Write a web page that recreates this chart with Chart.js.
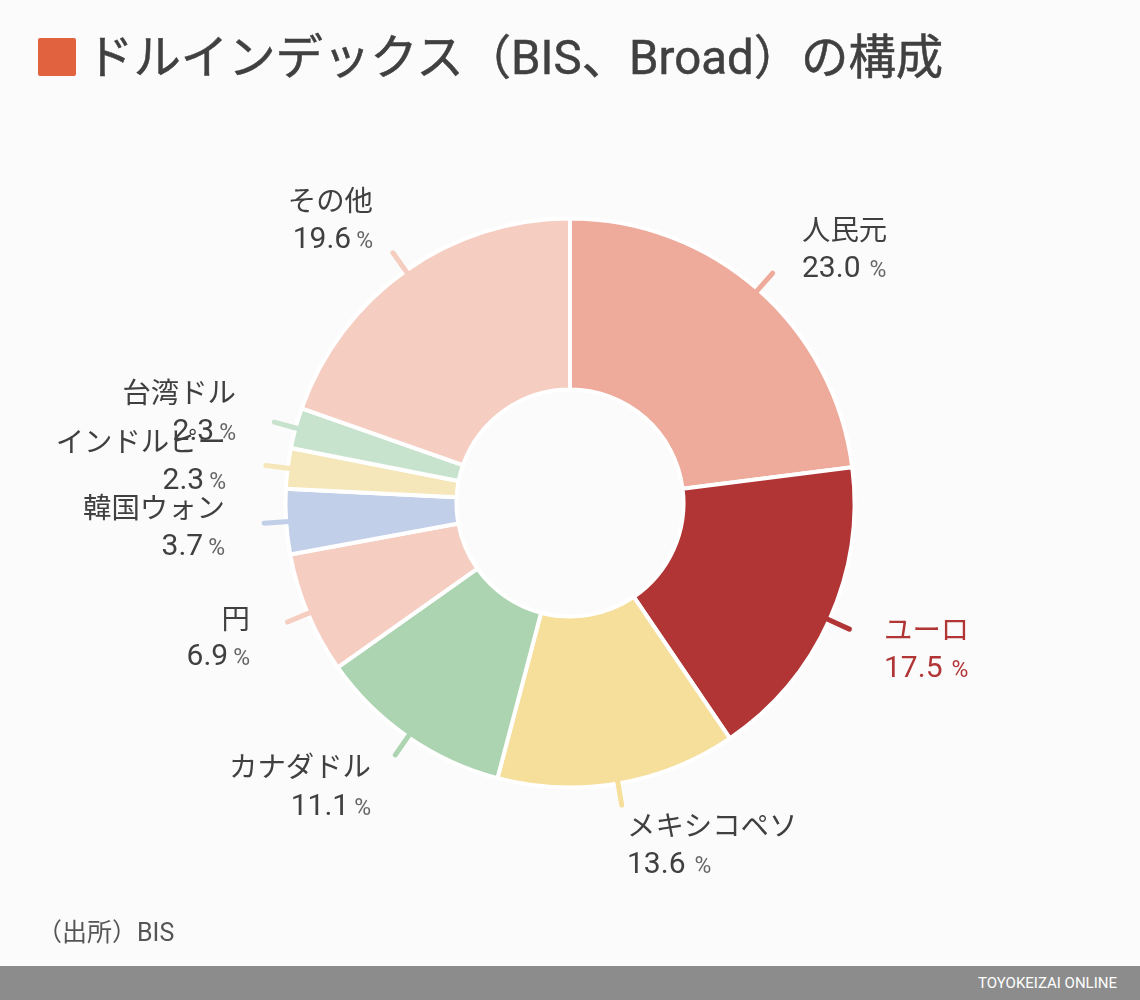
<!DOCTYPE html>
<html lang="ja">
<head>
<meta charset="utf-8">
<title>ドルインデックス（BIS、Broad）の構成</title>
<script src="https://cdn.jsdelivr.net/npm/chart.js@4"></script>
<style>
html, body { margin: 0; padding: 0; background: #fbfbfb; }
body { position: relative; width: 1140px; height: 1000px; overflow: hidden; font-family: Roboto, "Noto Sans CJK JP", sans-serif; color: #404040; }
#chart { position: absolute; left: 0; top: 0; }
.mark { position: absolute; left: 38px; top: 38px; width: 38px; height: 38px; border-radius: 2px; background: #e0623e; }
h1 { position: absolute; left: 86px; top: 26px; margin: 0; font-size: 47.4px; line-height: 64px; font-weight: 400; white-space: nowrap; -webkit-text-stroke: 0.5px #404040; }
.source { position: absolute; left: 37px; top: 916px; font-size: 25px; line-height: 34px; color: #555; }
.footer { position: absolute; left: 0; top: 966px; width: 1140px; height: 34px; background: #8c8c8c; }
.footer span { position: absolute; right: 23px; top: 7px; font-size: 15px; line-height: 20px; color: #fff; }
</style>
</head>
<body>
<canvas id="chart" width="1140" height="1000"></canvas>
<div class="mark"></div>
<h1>ドルインデックス（BIS、Broad）の構成</h1>
<div class="source">（出所）BIS</div>
<div class="footer"><span>TOYOKEIZAI ONLINE</span></div>
<script>
var categories = ['人民元', 'ユーロ', 'メキシコペソ', 'カナダドル', '円', '韓国ウォン', 'インドルピー', '台湾ドル', 'その他'];
var shares = [23.0, 17.5, 13.6, 11.1, 6.9, 3.7, 2.3, 2.3, 19.6];
var colors = ['#eeab9b', '#b23536', '#f6de9b', '#acd4b1', '#f5cdc1', '#c2cfe8', '#f6e7ba', '#c8e3cd', '#f5cdc1'];

// ラベルの位置 (x, 名前のy, 値のy, 揃え)
var labelPlaces = [
    [802, 233, 269.5, 'left'],
    [884, 633, 669.5, 'left'],
    [627, 829, 865.5, 'left'],
    [371, 770, 807.5, 'right'],
    [250, 622, 657.5, 'right'],
    [225, 511, 547.5, 'right'],
    [226, 445, 481.5, 'right'],
    [236, 396, 432.5, 'right'],
    [373, 204, 240.5, 'right']
];

var FONT = 'Roboto, "Noto Sans CJK JP", sans-serif';

var sliceLabels = {
    id: 'sliceLabels',
    afterDatasetsDraw: function (chart) {
        var c = chart.ctx;
        // 引き出し線
        chart.getDatasetMeta(0).data.forEach(function (arc, i) {
            var p = arc.getProps(['x', 'y', 'startAngle', 'endAngle', 'outerRadius']);
            var a = (p.startAngle + p.endAngle) / 2;
            c.save();
            c.strokeStyle = colors[i];
            c.lineWidth = 5;
            c.lineCap = 'round';
            c.beginPath();
            c.moveTo(p.x + Math.cos(a) * (p.outerRadius - 3), p.y + Math.sin(a) * (p.outerRadius - 3));
            c.lineTo(p.x + Math.cos(a) * (p.outerRadius + 22), p.y + Math.sin(a) * (p.outerRadius + 22));
            c.stroke();
            c.restore();
        });
        categories.forEach(function (name, i) {
            var place = labelPlaces[i];
            var x = place[0];
            var gap = place[3] === 'left' ? 9 : 5;
            var value = shares[i].toFixed(1);
            c.save();
            c.textBaseline = 'middle';
            c.fillStyle = i === 1 ? '#b23536' : '#404040';
            c.textAlign = place[3];
            c.font = '28.4px ' + FONT;
            c.fillText(name, x, place[1]);

            c.font = '30px ' + FONT;
            var valueWidth = c.measureText(value).width;
            c.font = '23px ' + FONT;
            var pctWidth = c.measureText('%').width;
            var left = place[3] === 'left' ? x : x - valueWidth - gap - pctWidth;

            c.textAlign = 'left';
            c.font = '30px ' + FONT;
            c.fillText(value, left, place[2]);
            c.font = '23px ' + FONT;
            c.fillStyle = i === 1 ? '#b23536' : '#666666';
            c.fillText('%', left + valueWidth + gap, place[2] + 2);
            c.restore();
        });
    }
};

new Chart(document.getElementById('chart'), {
    type: 'doughnut',
    data: {
        labels: categories,
        datasets: [{
            data: shares,
            backgroundColor: colors,
            borderColor: '#ffffff',
            borderWidth: 4
        }]
    },
    options: {
        responsive: false,
        animation: false,
        cutout: '39.9%',
        layout: { padding: { top: 216.5, bottom: 210.5, left: 283.5, right: 283.5 } },
        plugins: {
            legend: { display: false },
            tooltip: { enabled: false }
        }
    },
    plugins: [sliceLabels]
});
</script>
</body>
</html>
